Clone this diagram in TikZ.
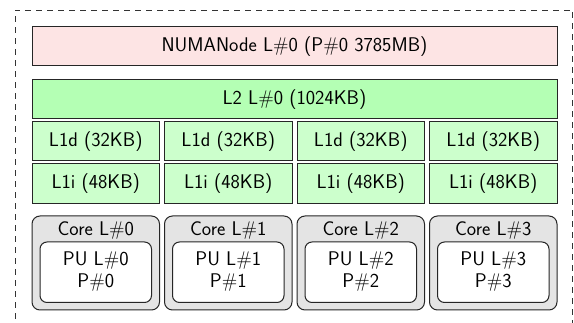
\documentclass[tikz,border=0pt]{standalone}
\usepackage{fontspec}
\setsansfont{Latin Modern Sans}
\definecolor{numac}{HTML}{FDE4E4}
\definecolor{ltwo}{HTML}{B4FFB4}
\definecolor{lone}{HTML}{CCFFCC}
\definecolor{corec}{HTML}{E4E4E4}
\begin{document}
\begin{tikzpicture}[x=1pt,y=-1pt,
  font=\sffamily\fontsize{19.8}{23}\selectfont,
  box/.style={draw=black!85,line width=1pt,inner sep=0pt},
  numabox/.style={box,fill=numac},
  l2box/.style={box,fill=ltwo},
  l1box/.style={box,fill=lone},
  corebox/.style={box,fill=corec,rounded corners=8pt},
  pubox/.style={box,fill=white,rounded corners=7pt},
  frame/.style={dashed,line width=0.8pt,draw=black!80,dash pattern=on 6pt off 5pt}]
\useasboundingbox (0,0) rectangle (574,323);
\draw[frame] (15,330) -- (15,10) -- (572.5,10) -- (572.5,330);
\draw[numabox] (32,27) rectangle (557,66);
\node (numa) at (294.5,46.5) {NUMANode L\#0 (P\#0 3785MB)};
\draw[l2box] (32,80) rectangle (557,119);
\node (l2) at (294.5,99.5) {L2 L\#0 (1024KB)};
\foreach \i/\x in {0/32,1/164.5,2/297,3/429.5}{
  \draw[l1box] (\x,122) rectangle ++(127.5,38.5);
  \node (l1d\i) at (\x+63.75,141.5) {L1d (32KB)};
  \draw[l1box] (\x,164) rectangle ++(127.5,40);
  \node (l1i\i) at (\x+63.75,184) {L1i (48KB)};
  \draw[corebox] (\x,216) rectangle ++(127.5,94);
  \node (core\i) at (\x+63.75,231) {Core L\#\i};
  \draw[pubox] (\x+8,242) rectangle ++(111.5,60.5);
  \node[align=center] (pu\i) at (\x+63.75,272) {PU L\#\i\\[-1pt]P\#\i};
}
\end{tikzpicture}
\end{document}
